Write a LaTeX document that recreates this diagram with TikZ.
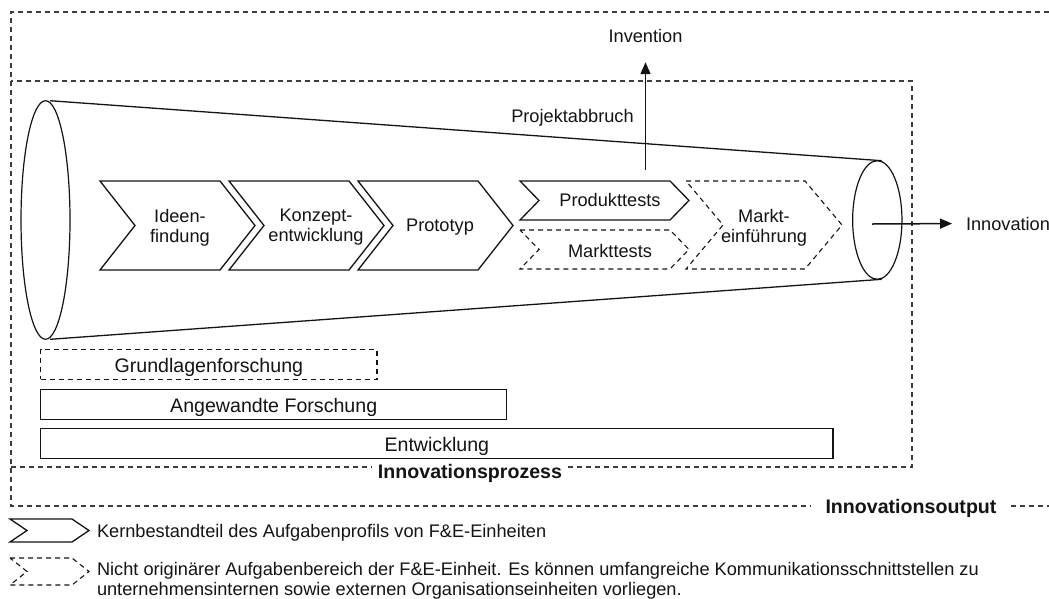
\documentclass[tikz,border=0pt]{standalone}
\usepackage{fontspec}
\setmainfont{Liberation Sans}
\usetikzlibrary{arrows.meta,shapes.geometric}
\definecolor{ink}{HTML}{141414}
\definecolor{framegray}{HTML}{3C3C3C}
% chevron outline: style, left x, top y, bottom y, body width, point depth
\newcommand{\chevpath}[6]{%
  \draw[#1] (#2,#3) -- ({#2+#5},#3) -- ({#2+#5+#6},{(#3+#4)/2}) -- ({#2+#5},#4)
    -- (#2,#4) -- ({#2+#6},{(#3+#4)/2}) -- cycle;}
\begin{document}
\begin{tikzpicture}[x=1pt,y=-1pt,
  every node/.style={inner sep=0pt, outer sep=0pt, text=ink},
  txt/.style={font=\fontsize{18.2}{20}\selectfont},
  bartxt/.style={font=\fontsize{19.6}{22}\selectfont},
  boldlbl/.style={font=\fontsize{19.6}{22}\selectfont\bfseries, text height=14pt, text depth=0pt},
  frame/.style={draw=framegray, line width=1.1pt, dash pattern=on 5pt off 4pt},
  solidshape/.style={draw=ink, line width=1.3pt, line join=miter},
  dashshape/.style={draw=ink, line width=1.1pt, dash pattern=on 5pt off 4pt},
  bar/.style={bartxt, minimum height=30pt, text height=16.8pt, text depth=0pt, anchor=west},
  arr/.style={draw=ink, line width=1.5pt, -{Triangle[length=12pt,width=10pt]}},
]
\fill[white] (0,0) rectangle (1049,598);
\useasboundingbox (0,0) rectangle (1049,598);

% frame labels
\node[boldlbl, inner xsep=6pt] (prozess) at (470,471) {Innovationsprozess};
\node[boldlbl, inner xsep=15pt] (output) at (911,506) {Innovationsoutput};

% outer frame (innovation output), open to the right
\coordinate (fo-bl) at (11,506);
\draw[frame] (1049,12) -- (11,12) -- (fo-bl) -- (fo-bl -| output.west);
\draw[frame] (fo-bl -| output.east) -- (1049,506);

% inner frame (innovation process), sharing the left edge
\coordinate (fi-bl) at (11,467);
\draw[frame] (fi-bl) -- (fi-bl -| prozess.west);
\draw[frame] (fi-bl -| prozess.east) -- (912,467) -- (912,81) -- (11,81);

% funnel
\node[ellipse, draw=ink, line width=1.2pt, minimum width=49pt, minimum height=238.6pt] (coneL) at (45.5,220) {};
\node[ellipse, draw=ink, line width=1.2pt, minimum width=49.3pt, minimum height=118.6pt] (coneR) at (877.3,220) {};
\draw[solidshape] ([xshift=4.5pt]coneL.north) -- ([xshift=4.4pt]coneR.north);
\draw[solidshape] ([xshift=4.5pt]coneL.south) -- ([xshift=4.4pt]coneR.south);

% process stages
\chevpath{solidshape}{100}{181}{270}{120}{35}
\chevpath{solidshape}{229}{181}{270}{120}{35}
\chevpath{solidshape}{358}{181}{270}{120}{35}
\chevpath{solidshape}{520}{181}{220}{150}{19}
\chevpath{dashshape}{520}{230}{269}{150}{19}
\chevpath{dashshape}{686}{181}{269}{119}{37}

\node[txt, align=center] (ideen) at (180,227.5) {Ideen-\\findung};
\node[txt, align=center] (konzept) at (316,227.5) {Konzept-\\entwicklung};
\node[txt, anchor=base] (proto) at (440,231.7) {Prototyp};
\node[txt, anchor=base] (prodtests) at (610,206.7) {Produkttests};
\node[txt, anchor=base] (markttests) at (610,257) {Markttests};
\node[txt, align=center] (markt) at (764,227.5) {Markt-\\einführung};

% outputs
\node[txt, anchor=base] (invention) at (645.5,42) {Invention};
\node[txt, anchor=base] (abbruch) at (572.5,122) {Projektabbruch};
\node[txt, anchor=base west] (innov) at (966,230) {Innovation};
\coordinate (abbruch-out) at (645.5,170);
\coordinate (cone-out) at (872,224);
\draw[arr, shorten >=20pt] (abbruch-out) -- (invention.south);
\draw[arr, shorten >=14pt] (cone-out) -- (innov.west);

% research and development bars
\node[bar, draw=ink, line width=1.1pt, dash pattern=on 5pt off 4pt, minimum width=336.3pt] (grund) at (40.7,364.3) {Grundlagenforschung};
\node[bar, draw=ink, line width=1.3pt, minimum width=466pt] (angew) at (40.7,404.3) {Angewandte Forschung};
\node[bar, draw=ink, line width=1.3pt, minimum width=792.3pt] (entw) at (40.7,443.3) {Entwicklung};

% legend
\chevpath{solidshape}{10}{519}{542}{62}{17}
\chevpath{dashshape}{10}{558}{585}{62}{17}
\node[txt, anchor=base west] (leg1) at (97,537) {Kernbestandteil des Aufgabenprofils von F\&E-Einheiten};
\node[txt, align=left, anchor=north west] (leg2) at (97,562) {Nicht originärer Aufgabenbereich der F\&E-Einheit. Es können umfangreiche Kommunikationsschnittstellen zu\\unternehmensinternen sowie externen Organisationseinheiten vorliegen.};
\end{tikzpicture}
\end{document}
